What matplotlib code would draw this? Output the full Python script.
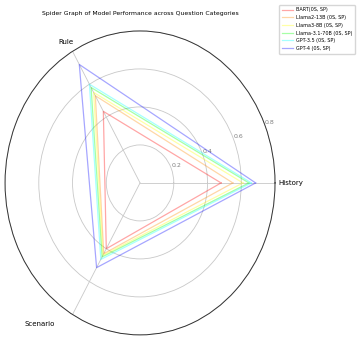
import numpy as np
import matplotlib.pyplot as plt

categories = ["History", "Rule", "Scenario"]
models = ["BART(0S, SP)", "Llama2-13B (0S, SP)", "Llama3-8B (0S, SP)",
          "Llama-3.1-70B (0S, SP)", "GPT-3.5 (0S, SP)", "GPT-4 (0S, SP)"]
bart = [0.48, 0.435, 0.40]
llama2_13b = [0.55, 0.53, 0.43]
llama3_8b = [0.61, 0.55, 0.44]
llama31_70b = [0.645, 0.58, 0.45]
gpt35 = [0.66, 0.60, 0.465]
gpt4 = [0.685, 0.72, 0.515]
colors = ["red", "darkorange", "yellow", "lime", "cyan", "blue"]

scores = [bart, llama2_13b, llama3_8b, llama31_70b, gpt35, gpt4]

angles = np.linspace(0, 2 * np.pi, len(categories), endpoint=False).tolist()
angles += angles[:1]

fig = plt.figure(figsize=(3.6, 3.4), dpi=100)
ax = fig.add_axes([0.014, 0.015, 0.75, 0.894], projection="polar")
ax.set_aspect("auto")

for name, vals, c in zip(models, scores, colors):
    v = vals + vals[:1]
    ax.plot(angles, v, color=c, alpha=0.35, linewidth=0.9, label=name)

ax.set_ylim(0, 0.8)
ax.set_yticks([0.2, 0.4, 0.6, 0.8])
ax.set_yticklabels(["0.2", "0.4", "0.6", "0.8"], fontsize=4.5, color="gray")
ax.set_xticks(angles[:-1])
ax.set_xticklabels([])
ax.grid(color="#c8c8c8", linewidth=0.6)
ax.spines["polar"].set_linewidth(0.7)
ax.spines["polar"].set_color("#333333")

# category labels, placed like in the original
label_pos = [(1.012, 0.5, "left"), (0.226, 0.964, "center"), (0.13, 0.036, "center")]
for cat, (x, y, ha) in zip(categories, label_pos):
    ax.text(x, y, cat, transform=ax.transAxes, ha=ha, va="center", fontsize=5)

fig.text(140 / 360, 1 - 14 / 340, "Spider Graph of Model Performance across Question Categories",
         ha="center", va="center", fontsize=4.4)
fig.legend(loc="upper right", bbox_to_anchor=(0.993, 0.993), fontsize=3.5,
           handlelength=2.3, borderpad=0.55, labelspacing=0.55, handletextpad=0.6)

fig.savefig("out.png", dpi=100)
